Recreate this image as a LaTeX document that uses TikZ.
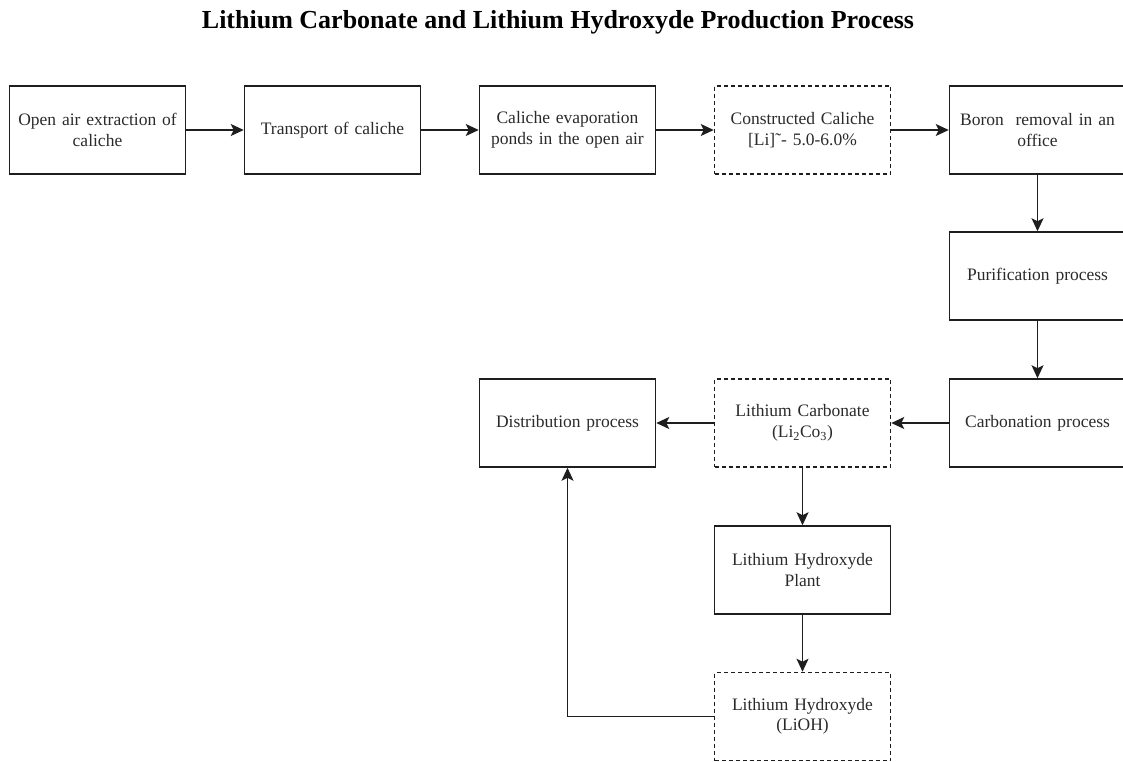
\documentclass[tikz,border=0pt]{standalone}
\usepackage{fontspec}
\setmainfont{Liberation Serif}
\usetikzlibrary{arrows.meta}
\definecolor{linec}{HTML}{1E1E1E}
\definecolor{txtc}{HTML}{2A2A2A}
\begin{document}
\begin{tikzpicture}[x=1pt,y=-1pt,
  box/.style={draw=linec, line width=1.5pt, minimum width=176pt, minimum height=88pt,
    inner sep=0pt, align=center, text width=172pt,
    font=\fontsize{17.5}{20.5}\selectfont, text=txtc},
  dbox/.style={box, dash pattern=on 4pt off 3pt},
  conn/.style={draw=linec, line width=1.5pt, -{Stealth[length=13pt,width=12pt,inset=3pt]}},
  ttl/.style={font=\fontsize{26}{30}\selectfont\bfseries, text=black, inner sep=0pt, anchor=base}
]
\useasboundingbox (0,0) rectangle (1123,762);

\node[ttl] (title) at (558,29) {Lithium Carbonate and Lithium Hydroxyde Production Process};

\node[box]  (open)   at (97.5,130)   {Open air extraction of\\caliche};
\node[box]  (trans)  at (332.5,130)  {Transport of caliche};
\node[box]  (ponds)  at (567.5,130)  {Caliche evaporation\\ponds in the open air};
\node[dbox] (constr) at (802.5,130)  {Constructed Caliche\\{}[Li]˜- 5.0-6.0\%};
\node[box]  (boron)  at (1037.5,130) {Boron\ \ removal in an\\office};
\node[box]  (purif)  at (1037.5,276) {Purification process};
\node[box]  (carbo)  at (1037.5,423) {Carbonation process};
\node[dbox] (licarb) at (802.5,423)  {Lithium Carbonate\\(Li\textsubscript{2}Co\textsubscript{3})};
\node[box]  (distr)  at (567.5,423)  {Distribution process};
\node[box]  (plant)  at (802.5,570)  {Lithium Hydroxyde\\Plant};
\node[dbox] (lioh)   at (802.5,716.5) {Lithium Hydroxyde\\(LiOH)};

\draw[conn] (open) -- (trans);
\draw[conn] (trans) -- (ponds);
\draw[conn] (ponds) -- (constr);
\draw[conn] (constr) -- (boron);
\draw[conn] (boron) -- (purif);
\draw[conn] (purif) -- (carbo);
\draw[conn] (carbo) -- (licarb);
\draw[conn] (licarb) -- (distr);
\draw[conn] (licarb) -- (plant);
\draw[conn] (plant) -- (lioh);
\draw[conn] (lioh.west) -| (distr.south);
\end{tikzpicture}
\end{document}
